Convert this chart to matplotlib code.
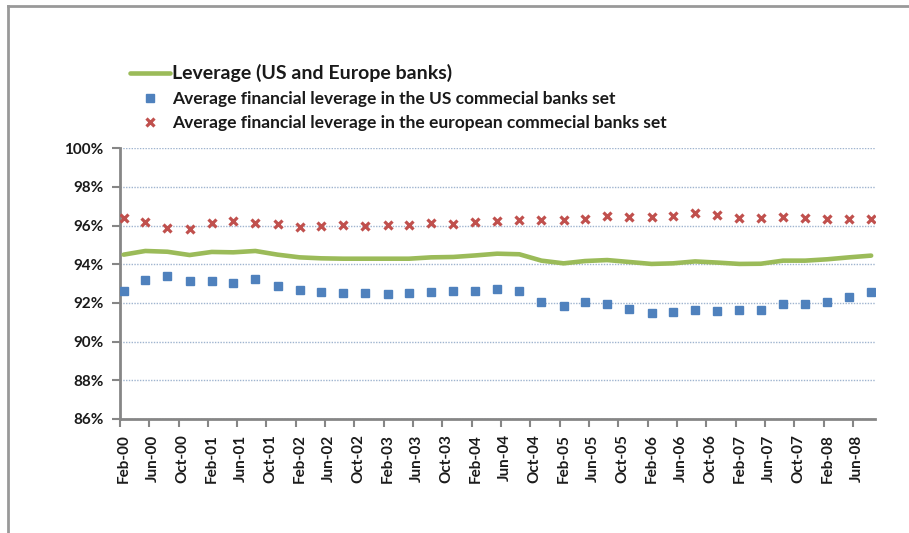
import pandas as pd
import matplotlib
matplotlib.use("Agg")
import matplotlib.pyplot as plt
import matplotlib.dates as mdates
import matplotlib.transforms as mtrans
from matplotlib.lines import Line2D

plt.rcParams['font.family'] = ['Lato', 'DejaVu Sans']
plt.rcParams['font.weight'] = 'bold'

# quarterly observations, Feb-2000 .. Aug-2008
quarters = pd.date_range('2000-02-01', '2008-08-01', freq='3MS')

leverage_all = [94.50, 94.69, 94.65, 94.48, 94.64, 94.62, 94.69, 94.50, 94.36, 94.31,
                94.29, 94.29, 94.29, 94.29, 94.36, 94.38, 94.46, 94.55, 94.52, 94.19,
                94.05, 94.17, 94.22, 94.12, 94.02, 94.05, 94.15, 94.09, 94.02, 94.03,
                94.19, 94.19, 94.26, 94.36, 94.45]
us_banks = [92.62, 93.17, 93.38, 93.15, 93.15, 93.03, 93.22, 92.88, 92.67, 92.55,
            92.53, 92.53, 92.48, 92.50, 92.57, 92.62, 92.60, 92.74, 92.64, 92.05,
            91.83, 92.05, 91.93, 91.67, 91.48, 91.55, 91.65, 91.58, 91.62, 91.65,
            91.93, 91.96, 92.05, 92.31, 92.55]
eu_banks = [96.41, 96.19, 95.88, 95.83, 96.15, 96.22, 96.12, 96.08, 95.95, 95.97,
            96.02, 96.00, 96.05, 96.02, 96.12, 96.10, 96.19, 96.26, 96.29, 96.27,
            96.27, 96.33, 96.50, 96.46, 96.46, 96.50, 96.64, 96.53, 96.39, 96.39,
            96.43, 96.39, 96.36, 96.36, 96.36]

labels = ['Leverage (US and Europe banks)',
          'Average financial leverage in the US commecial banks set',
          'Average financial leverage in the european commecial banks set']

ticks = pd.date_range('2000-02-01', '2008-06-01', freq='4MS')
yticks = [86, 88, 90, 92, 94, 96, 98, 100]

fig = plt.figure(figsize=(9.09, 5.33), dpi=100)
ax = fig.add_axes([120 / 909, 1 - 419 / 533, 755 / 909, 270.7 / 533])

# Excel date axis puts points in the middle of their month
x = quarters + pd.Timedelta(days=15)
ax.plot(x, leverage_all, color='#9bbb59', lw=3.3, solid_capstyle='round', label=labels[0], zorder=3)
ax.plot(x, us_banks, ls='none', marker='s', ms=5.5, color='#4f81bd', label=labels[1], zorder=4)
ax.plot(x, eu_banks, ls='none', marker='x', ms=6, mew=2.3, color='#c0504d', label=labels[2], zorder=4)

ax.set_xlim(pd.Timestamp('2000-02-01'), pd.Timestamp('2008-09-01'))
ax.set_ylim(86, 100)
ax.set_yticks(yticks)
ax.set_yticklabels([f'{v}%' for v in yticks])
ax.set_xticks(ticks)
ax.xaxis.set_major_formatter(mdates.DateFormatter('%b-%y'))
ax.tick_params(axis='x', rotation=90, length=6, width=1.5, color='#868686', pad=5, labelsize=11)
ax.tick_params(axis='y', length=6, width=1.5, color='#868686', pad=6, labelsize=11)
shift = mtrans.ScaledTranslation(4 / 100, 0, fig.dpi_scale_trans)
for lab in ax.get_xticklabels():
    lab.set_transform(lab.get_transform() + shift)
    lab.set_color('#1a1a1a')
for lab in ax.get_yticklabels():
    lab.set_color('#1a1a1a')

ax.grid(axis='y', color='#9fb4cf', ls=(0, (1, 1)), lw=1)
for s in ['top', 'right']:
    ax.spines[s].set_visible(False)
for s in ['left', 'bottom']:
    ax.spines[s].set_color('#868686')
    ax.spines[s].set_linewidth(2)

leg = fig.legend(loc='upper left', bbox_to_anchor=(130 / 909, 1 - 64 / 533), frameon=False,
                 fontsize=12.5, handlelength=2.3, handletextpad=0.12, labelspacing=0.5,
                 borderaxespad=0, borderpad=0)
for t in leg.get_texts():
    t.set_color('#1a1a1a')
leg.get_texts()[0].set_fontsize(14)

# outer chart border (only top and left edges visible)
fig.add_artist(Line2D([8 / 909, 1], [1 - 6 / 533] * 2, transform=fig.transFigure, color='#999999', lw=2))
fig.add_artist(Line2D([8 / 909] * 2, [0, 1 - 6 / 533], transform=fig.transFigure, color='#999999', lw=2))

fig.savefig('out.png', dpi=100)
